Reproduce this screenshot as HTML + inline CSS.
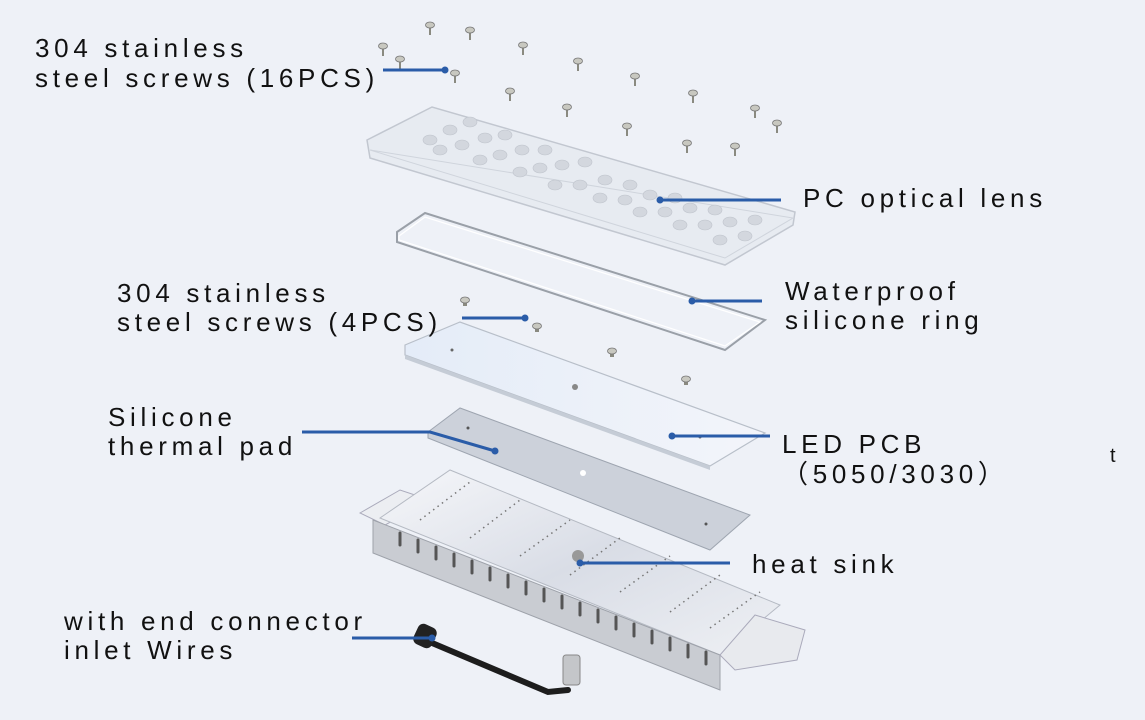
<!DOCTYPE html>
<html><head><meta charset="utf-8"><style>
html,body{margin:0;padding:0;background:#eef1f7;}
svg{display:block}
text{font-family:"Liberation Sans","Noto Sans CJK SC",sans-serif;font-size:26px;letter-spacing:4.7px;fill:#111;}
</style></head><body>
<svg width="1145" height="720" viewBox="0 0 1145 720" xmlns="http://www.w3.org/2000/svg">
<defs>
<linearGradient id="hs" x1="0" y1="0" x2="1" y2="1">
<stop offset="0" stop-color="#f6f7fa"/><stop offset="0.5" stop-color="#d9dde6"/><stop offset="1" stop-color="#eef0f4"/></linearGradient>
<linearGradient id="pcb" x1="0" y1="0" x2="1" y2="0">
<stop offset="0" stop-color="#e4ecf8"/><stop offset="1" stop-color="#f3f5fa"/></linearGradient>
<g id="sc"><rect x="-1" y="3" width="2" height="10" fill="#8a8a80"/><ellipse cx="0" cy="3" rx="4.5" ry="3" fill="#c8c8c0" stroke="#777" stroke-width="0.8"/></g>
<g id="sc2"><rect x="-2" y="3" width="4" height="6" fill="#8a8a80"/><ellipse cx="0" cy="3" rx="4.5" ry="3" fill="#c8c8c0" stroke="#777" stroke-width="0.8"/></g>
</defs>

<!-- lens -->
<polygon points="367,140 432,107 795,212 793,225 725,265 370,158" fill="#e7ebf1" stroke="#c2c7d0" stroke-width="1.5"/>
<polygon points="370,150 725,258 793,218" fill="none" stroke="#cfd4dc" stroke-width="1"/>
<g fill="#d3d7de" stroke="#bfc4cc" stroke-width="0.6">
<ellipse cx="430" cy="140" rx="7" ry="5"/><ellipse cx="450" cy="130" rx="7" ry="5"/><ellipse cx="470" cy="122" rx="7" ry="5"/>
<ellipse cx="440" cy="150" rx="7" ry="5"/><ellipse cx="462" cy="145" rx="7" ry="5"/><ellipse cx="485" cy="138" rx="7" ry="5"/><ellipse cx="505" cy="135" rx="7" ry="5"/>
<ellipse cx="480" cy="160" rx="7" ry="5"/><ellipse cx="500" cy="155" rx="7" ry="5"/><ellipse cx="522" cy="150" rx="7" ry="5"/><ellipse cx="545" cy="150" rx="7" ry="5"/>
<ellipse cx="520" cy="172" rx="7" ry="5"/><ellipse cx="540" cy="168" rx="7" ry="5"/><ellipse cx="562" cy="165" rx="7" ry="5"/><ellipse cx="585" cy="162" rx="7" ry="5"/>
<ellipse cx="555" cy="185" rx="7" ry="5"/><ellipse cx="580" cy="185" rx="7" ry="5"/><ellipse cx="605" cy="180" rx="7" ry="5"/><ellipse cx="630" cy="185" rx="7" ry="5"/>
<ellipse cx="600" cy="198" rx="7" ry="5"/><ellipse cx="625" cy="200" rx="7" ry="5"/><ellipse cx="650" cy="195" rx="7" ry="5"/><ellipse cx="675" cy="198" rx="7" ry="5"/>
<ellipse cx="640" cy="212" rx="7" ry="5"/><ellipse cx="665" cy="212" rx="7" ry="5"/><ellipse cx="690" cy="208" rx="7" ry="5"/><ellipse cx="715" cy="210" rx="7" ry="5"/>
<ellipse cx="680" cy="225" rx="7" ry="5"/><ellipse cx="705" cy="225" rx="7" ry="5"/><ellipse cx="730" cy="222" rx="7" ry="5"/><ellipse cx="755" cy="220" rx="7" ry="5"/>
<ellipse cx="720" cy="240" rx="7" ry="5"/><ellipse cx="745" cy="236" rx="7" ry="5"/>
</g>
<!-- ring -->
<polygon points="397,232 425,213 765,320 725,350 397,242" fill="none" stroke="#9aa0a8" stroke-width="2"/>
<polygon points="399,236 425,217 760,322 725,346 399,240" fill="none" stroke="#fff" stroke-width="1.2"/>
<!-- PCB -->
<polygon points="405,345 460,322 765,433 710,466 405,355" fill="url(#pcb)" stroke="#b8bfc9" stroke-width="1.2"/>
<polygon points="405,355 710,466 710,470 405,359" fill="#c5ccd6"/>
<circle cx="575" cy="387" r="3" fill="#888"/><circle cx="452" cy="350" r="1.5" fill="#666"/><circle cx="700" cy="437" r="1.5" fill="#666"/>
<!-- thermal pad -->
<polygon points="428,432 460,408 750,515 710,550 428,438" fill="#ccd1da" stroke="#9ea5b0" stroke-width="1"/>
<circle cx="583" cy="473" r="3" fill="#fff"/><circle cx="468" cy="428" r="1.5" fill="#555"/><circle cx="706" cy="524" r="1.5" fill="#555"/>
<!-- heat sink -->
<polygon points="360,513 400,490 430,500 385,525" fill="#eceef2" stroke="#aab" stroke-width="1"/>
<polygon points="380,518 450,470 780,605 720,655" fill="url(#hs)" stroke="#b5bac3" stroke-width="1"/>
<polygon points="373,520 720,655 720,690 373,553" fill="#c9ccd2" stroke="#9ea2aa" stroke-width="1"/>
<polygon points="755,615 805,630 797,660 735,670 720,655" fill="#e8eaee" stroke="#aab" stroke-width="1"/>
<g stroke="#555" stroke-width="3" stroke-linecap="round">
<line x1="400" y1="533" x2="400" y2="545"/><line x1="418" y1="540" x2="418" y2="552"/><line x1="436" y1="547" x2="436" y2="559"/><line x1="454" y1="554" x2="454" y2="566"/><line x1="472" y1="561" x2="472" y2="573"/><line x1="490" y1="568" x2="490" y2="580"/><line x1="508" y1="575" x2="508" y2="587"/><line x1="526" y1="582" x2="526" y2="594"/><line x1="544" y1="589" x2="544" y2="601"/><line x1="562" y1="596" x2="562" y2="608"/><line x1="580" y1="603" x2="580" y2="615"/><line x1="598" y1="610" x2="598" y2="622"/><line x1="616" y1="617" x2="616" y2="629"/><line x1="634" y1="624" x2="634" y2="636"/><line x1="652" y1="631" x2="652" y2="643"/><line x1="670" y1="638" x2="670" y2="650"/><line x1="688" y1="645" x2="688" y2="657"/><line x1="706" y1="652" x2="706" y2="664"/>
</g>
<g stroke="#777" stroke-width="1.5" stroke-dasharray="1.5 4">
<line x1="420" y1="520" x2="470" y2="482"/><line x1="470" y1="538" x2="520" y2="500"/><line x1="520" y1="556" x2="570" y2="520"/><line x1="570" y1="575" x2="620" y2="538"/><line x1="620" y1="592" x2="670" y2="556"/><line x1="670" y1="612" x2="720" y2="575"/><line x1="710" y1="628" x2="760" y2="592"/>
</g>
<circle cx="578" cy="556" r="6" fill="#999"/>
<!-- cable -->
<path d="M425,640 L548,692 L568,690" fill="none" stroke="#1d1d1d" stroke-width="6" stroke-linecap="round"/>
<rect x="415" y="625" width="20" height="22" rx="6" fill="#222" transform="rotate(25 425 636)"/>
<rect x="563" y="655" width="17" height="30" rx="3" fill="#c4c6c9" stroke="#888"/>
<!-- screws -->
<g>
<use href="#sc" x="430" y="22"/><use href="#sc" x="470" y="27"/><use href="#sc" x="383" y="43"/><use href="#sc" x="400" y="56"/><use href="#sc" x="523" y="42"/><use href="#sc" x="578" y="58"/><use href="#sc" x="455" y="70"/><use href="#sc" x="635" y="73"/><use href="#sc" x="510" y="88"/><use href="#sc" x="693" y="90"/><use href="#sc" x="567" y="104"/><use href="#sc" x="755" y="105"/><use href="#sc" x="777" y="120"/><use href="#sc" x="627" y="123"/><use href="#sc" x="687" y="140"/><use href="#sc" x="735" y="143"/>
<use href="#sc2" x="465" y="297"/><use href="#sc2" x="537" y="323"/><use href="#sc2" x="612" y="348"/><use href="#sc2" x="686" y="376"/>
</g>
<!-- leaders -->
<g stroke="#2a5ca8" stroke-width="3" fill="none">
<line x1="383" y1="70" x2="445" y2="70"/>
<line x1="660" y1="200" x2="781" y2="200"/>
<line x1="692" y1="301" x2="762" y2="301"/>
<line x1="462" y1="318" x2="525" y2="318"/>
<polyline points="302,432 430,432 495,451"/>
<line x1="672" y1="436" x2="770" y2="436"/>
<line x1="580" y1="563" x2="730" y2="563"/>
<line x1="352" y1="638" x2="432" y2="638"/>
</g>
<g fill="#2a5ca8">
<circle cx="445" cy="70" r="3.5"/><circle cx="660" cy="200" r="3.5"/><circle cx="692" cy="301" r="3.5"/><circle cx="525" cy="318" r="3.5"/><circle cx="495" cy="451" r="3.5"/><circle cx="672" cy="436" r="3.5"/><circle cx="580" cy="563" r="3.5"/><circle cx="432" cy="638" r="3.5"/>
</g>
<!-- labels -->
<text x="35" y="57">304 stainless</text>
<text x="35" y="87">steel screws (16PCS)</text>
<text x="803" y="207">PC optical lens</text>
<text x="785" y="300">Waterproof</text>
<text x="785" y="329">silicone ring</text>
<text x="117" y="302">304 stainless</text>
<text x="117" y="331">steel screws (4PCS)</text>
<text x="108" y="426">Silicone</text>
<text x="108" y="455">thermal pad</text>
<text x="782" y="453">LED PCB</text>
<text x="782" y="483">（5050/3030）</text>
<text x="752" y="573">heat sink</text>
<text x="64" y="630">with end connector</text>
<text x="64" y="659">inlet Wires</text>
<text x="1110" y="462" style="font-size:20px;letter-spacing:0">t</text>
</svg>
</body></html>
